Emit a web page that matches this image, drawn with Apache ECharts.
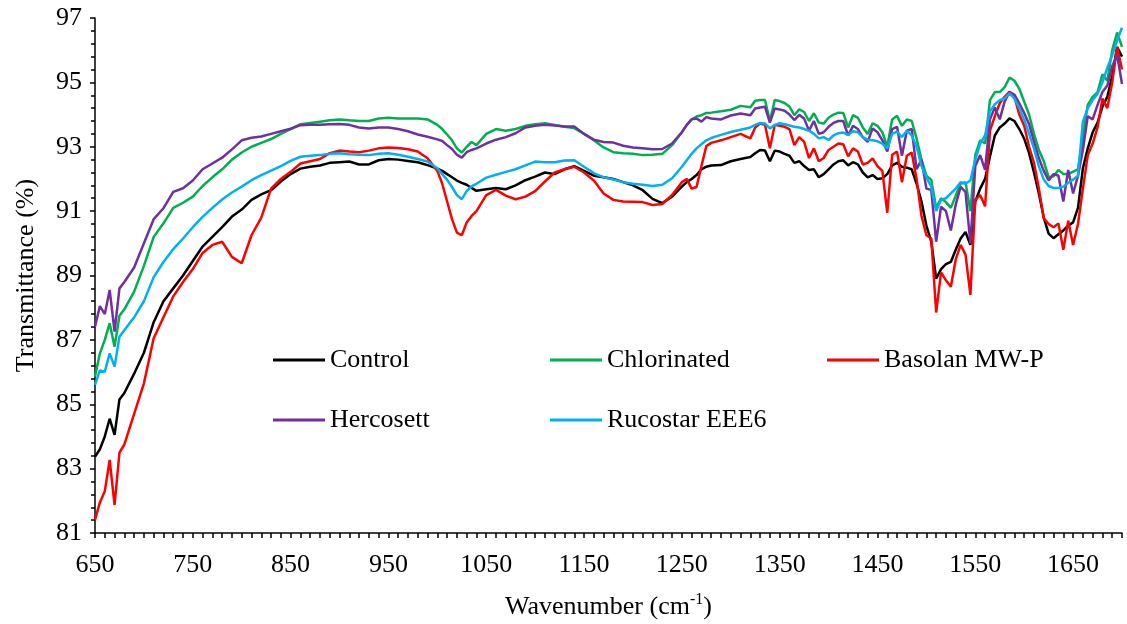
<!DOCTYPE html>
<html>
<head>
<meta charset="utf-8">
<title>FTIR spectra</title>
<script src="https://cdn.jsdelivr.net/npm/echarts@6/dist/echarts.min.js"></script>
<style>
  html, body { margin: 0; padding: 0; background: #fff; }
  #chart { width: 1127px; height: 624px; }
</style>
</head>
<body>
<div id="chart"></div>
<script>
// wavenumber grid (cm-1), shared by all series
const wavenumbers = [
  650, 655, 660, 665, 670, 675, 680,
  690, 700, 710, 720, 730, 740, 750, 760, 770, 780,
  790, 800, 810, 820, 830, 840, 850, 860, 870, 880,
  890, 900, 910, 920, 930, 940, 950, 960, 970, 980,
  990, 1000,
  1005, 1010, 1015, 1020, 1025, 1030, 1035, 1040,
  1050, 1060, 1070, 1080, 1090, 1100, 1110, 1120, 1130, 1140,
  1150, 1160, 1170, 1180, 1190, 1200, 1210, 1220, 1230, 1240, 1250,
  1255, 1260, 1265, 1270, 1275, 1280,
  1290, 1300, 1310, 1320,
  1325, 1330, 1335, 1340, 1345, 1350, 1355, 1360, 1365, 1370,
  1375, 1380, 1385, 1390, 1395, 1400, 1405, 1410, 1415, 1420,
  1425, 1430, 1435, 1440, 1445, 1450, 1455, 1460, 1465, 1470,
  1475, 1480, 1485, 1490, 1495, 1500, 1505, 1510, 1515, 1520,
  1525, 1530, 1535, 1540, 1545, 1550, 1555, 1560, 1565, 1570,
  1575, 1580, 1585, 1590, 1595, 1600, 1605, 1610, 1615, 1620,
  1625, 1630, 1635, 1640, 1645, 1650, 1655, 1660, 1665, 1670,
  1675, 1680, 1685, 1690, 1695, 1700
];

const control = [
  83.37, 83.6, 84.0, 84.55, 84.05, 85.15, 85.35,
  85.95, 86.6, 87.55, 88.2, 88.6, 89.0, 89.45, 89.9, 90.2, 90.5,
  90.83, 91.05, 91.35, 91.52, 91.65, 91.92, 92.15, 92.32, 92.38, 92.42,
  92.5, 92.52, 92.54, 92.45, 92.45, 92.58, 92.62, 92.6, 92.56, 92.52,
  92.43, 92.32,
  92.25, 92.15, 92.05, 91.95, 91.88, 91.82, 91.72, 91.63,
  91.68, 91.72, 91.68, 91.8, 91.96, 92.07, 92.2, 92.15, 92.3, 92.4,
  92.25, 92.1, 92.05, 92.0, 91.9, 91.8, 91.65, 91.38, 91.25, 91.45, 91.76,
  91.9, 92.0, 92.12, 92.3, 92.38, 92.42,
  92.43, 92.55, 92.62, 92.68,
  92.8, 92.9, 92.88, 92.55, 92.88, 92.85, 92.78, 92.72, 92.5, 92.55,
  92.4, 92.28, 92.3, 92.05, 92.15, 92.3, 92.45, 92.55, 92.58, 92.42,
  92.52, 92.45, 92.2, 92.05, 92.12, 92.0, 92.02, 92.15, 92.42, 92.5,
  92.38, 92.35, 92.3, 91.85, 91.3, 90.55, 90.05, 88.9, 89.2, 89.35,
  89.42, 89.8, 90.15, 90.35, 89.95, 91.3, 91.7, 92.0, 92.7, 93.35,
  93.6, 93.72, 93.88, 93.8, 93.55, 93.25, 92.8, 92.2, 91.55, 90.8,
  90.3, 90.16, 90.28, 90.4, 90.55, 90.65, 91.1, 92.33, 92.95, 93.45,
  93.75, 94.25, 94.55, 95.2, 96.1, 95.8
];

const chlorinated = [
  85.86, 86.58, 87.0, 87.52, 86.79, 87.75, 87.95,
  88.5, 89.3, 90.2, 90.62, 91.1, 91.26, 91.45, 91.78, 92.05, 92.3,
  92.6, 92.82, 93.0, 93.12, 93.24, 93.4, 93.55, 93.7, 93.74, 93.78,
  93.82, 93.85, 93.82, 93.8, 93.8, 93.88, 93.9, 93.88, 93.88, 93.88,
  93.85, 93.68,
  93.55, 93.38, 93.2, 92.95, 92.82, 93.0, 93.15, 93.05,
  93.4, 93.55, 93.5, 93.55, 93.65, 93.7, 93.73, 93.68, 93.62, 93.58,
  93.4, 93.2, 92.98, 92.83, 92.8, 92.78, 92.74, 92.75, 92.78, 93.05, 93.45,
  93.68, 93.85, 93.94, 93.98, 94.05, 94.06,
  94.1, 94.15, 94.27, 94.23,
  94.43, 94.45, 94.45, 93.8, 94.45, 94.42, 94.36, 94.25, 93.98, 94.16,
  94.08, 93.8, 94.04, 93.75, 93.72, 93.9, 94.0, 94.06, 94.05, 93.6,
  93.98, 93.9, 93.6, 93.4, 93.73, 93.65, 93.45, 93.0, 93.85, 93.96,
  93.65, 93.85, 93.8, 93.25, 92.6, 92.1, 91.97, 91.1, 91.4, 91.28,
  91.1, 91.48, 91.85, 91.9, 91.0, 92.75, 93.2, 93.1, 94.45, 94.7,
  94.7, 94.85, 95.15, 95.05, 94.8, 94.4, 94.0, 93.4, 92.9, 92.55,
  92.05, 92.08, 92.28, 92.15, 92.15, 92.23, 92.3, 93.3, 94.3, 94.55,
  94.7, 95.25, 95.05, 96.0, 96.55, 96.1
];

const basolan = [
  81.41, 81.95, 82.3, 83.27, 81.87, 83.5, 83.75,
  84.7, 85.65, 87.05, 87.7, 88.35, 88.8, 89.2, 89.7, 89.95, 90.05,
  89.58, 89.38, 90.25, 90.8, 91.7, 92.0, 92.22, 92.48, 92.55, 92.62,
  92.8, 92.88, 92.85, 92.83, 92.88, 92.95, 92.98, 92.96, 92.92, 92.85,
  92.64, 92.25,
  91.85, 91.3, 90.75, 90.33, 90.25, 90.65, 90.85, 91.0,
  91.5, 91.66, 91.48, 91.37, 91.45, 91.62, 91.92, 92.2, 92.3, 92.38,
  92.2, 91.95, 91.55, 91.35, 91.3, 91.29, 91.28, 91.19, 91.22, 91.5, 91.9,
  92.0, 91.7, 91.75, 92.4, 93.02, 93.12,
  93.2, 93.3, 93.4, 93.26,
  93.6, 93.72, 93.68, 92.95, 93.68, 93.65, 93.62, 93.55, 93.05, 93.3,
  93.15, 92.65, 92.95, 92.55, 92.65, 92.9, 93.0, 93.1, 93.08, 92.7,
  92.95, 92.85, 92.45, 92.5, 92.64, 92.4, 92.25, 90.95, 92.75, 92.85,
  91.9, 92.72, 92.82, 92.0, 90.85, 90.25, 90.15, 87.85, 89.1, 88.85,
  88.65, 89.5, 89.95, 89.65, 88.4, 91.35, 91.5, 91.15, 93.5, 93.95,
  94.35, 94.55, 94.71, 94.55, 94.0, 93.65, 93.0, 92.5, 91.7, 90.78,
  90.6, 90.5, 90.62, 89.8, 90.7, 89.95, 90.6, 91.7, 92.74, 93.1,
  93.6, 94.5, 94.2, 95.0, 96.1, 95.4
];

const hercosett = [
  87.41, 88.05, 87.8, 88.55, 87.26, 88.6, 88.8,
  89.25, 90.0, 90.75, 91.09, 91.6, 91.71, 91.95, 92.3, 92.48, 92.66,
  92.92, 93.2, 93.28, 93.32, 93.4, 93.48, 93.56, 93.67, 93.68, 93.68,
  93.7, 93.71, 93.68, 93.6, 93.57, 93.6, 93.6, 93.55, 93.48, 93.38,
  93.31, 93.23,
  93.18, 93.05, 92.93, 92.75, 92.66, 92.83, 92.9, 92.95,
  93.1, 93.22, 93.3, 93.42, 93.6, 93.65, 93.68, 93.66, 93.63, 93.63,
  93.4, 93.22, 93.15, 93.13, 93.03, 92.98, 92.95, 92.92, 92.93, 93.1, 93.45,
  93.68, 93.85, 93.88, 93.78, 93.92, 93.88,
  93.85, 93.97, 94.03, 93.98,
  94.19, 94.22, 94.24, 93.75, 94.19, 94.16, 94.12, 94.0, 93.83, 93.99,
  93.88, 93.5, 93.8, 93.4, 93.45, 93.62, 93.74, 93.8, 93.8, 93.35,
  93.65, 93.55, 93.3, 93.15, 93.57, 93.45, 93.2, 92.85, 93.55, 93.62,
  92.72, 93.5, 93.55, 92.3, 92.6, 91.7, 91.66, 90.05, 91.14, 91.0,
  90.4, 91.2, 91.75, 91.6, 90.0, 92.4, 92.74, 92.28, 93.85, 94.22,
  93.85, 94.4, 94.7, 94.62, 94.35, 94.05, 93.7, 93.15, 92.65, 92.25,
  91.95, 92.15, 92.1, 91.3, 92.28, 91.55, 92.1, 92.9, 93.95, 93.85,
  94.3, 94.7, 94.9, 95.5, 95.85, 94.95
];

const rucostar = [
  85.6, 86.05, 86.01, 86.58, 86.17, 87.1, 87.3,
  87.7, 88.2, 88.95, 89.42, 89.82, 90.15, 90.5, 90.82, 91.1, 91.36,
  91.58, 91.76, 91.96, 92.12, 92.26, 92.4, 92.56, 92.69, 92.72, 92.74,
  92.78, 92.8, 92.77, 92.75, 92.74, 92.78, 92.8, 92.75, 92.69, 92.62,
  92.54, 92.33,
  92.15, 91.97, 91.75, 91.5, 91.37, 91.62, 91.78, 91.85,
  92.04, 92.13, 92.22, 92.3, 92.42, 92.54, 92.52, 92.52, 92.57, 92.58,
  92.38, 92.18, 92.05, 91.98, 91.9, 91.85, 91.82, 91.78, 91.82, 92.02, 92.38,
  92.58, 92.78, 92.95, 93.08, 93.2, 93.27,
  93.37, 93.46, 93.53, 93.6,
  93.68, 93.74, 93.72, 93.57, 93.68, 93.73, 93.7, 93.66, 93.62, 93.6,
  93.55, 93.5, 93.4, 93.26, 93.3, 93.21, 93.35, 93.42, 93.44, 93.37,
  93.48, 93.45, 93.3, 93.22, 93.2, 93.17, 93.1, 92.95, 93.4, 93.47,
  93.3, 93.5, 93.35, 93.0, 92.4, 92.05, 91.76, 91.0, 91.35, 91.4,
  91.55, 91.7, 91.9, 91.85, 91.95, 92.6, 93.1, 93.35, 94.1, 94.32,
  94.45, 94.5, 94.66, 94.5, 94.2, 93.85, 93.4, 92.95, 92.4, 91.98,
  91.78, 91.72, 91.72, 91.76, 91.88, 91.98, 92.1, 93.78, 94.2, 94.45,
  94.65, 95.0, 95.45, 95.85, 96.3, 96.7
];

const seriesNames = ['Control', 'Chlorinated', 'Basolan MW-P', 'Hercosett', 'Rucostar EEE6'];
const seriesData = [control, chlorinated, basolan, hercosett, rucostar];
const seriesColors = ['#000000', '#00B050', '#FF0000', '#7030A0', '#00B0F0'];

const FONT = "'Liberation Serif', 'Times New Roman', serif";

// legend slots: two rows, three columns
const legendPos = [[273, 347], [550, 347], [827, 347], [273, 407], [550, 407]];

const chart = echarts.init(document.getElementById('chart'));

const option = {
  animation: false,
  backgroundColor: '#fff',
  grid: { left: 95, right: 5, top: 18, bottom: 91, outerBoundsMode: 'none' },
  legend: seriesNames.map((name, i) => ({
    data: [name],
    left: legendPos[i][0],
    top: legendPos[i][1],
    padding: 0,
    icon: 'rect',
    itemWidth: 52,
    itemHeight: 3,
    selectedMode: false,
    textStyle: { fontFamily: FONT, fontSize: 26, color: '#000' }
  })),
  xAxis: {
    type: 'value',
    min: 650,
    max: 1700,
    interval: 50,
    name: 'Wavenumber (cm{sup|-1})',
    nameLocation: 'middle',
    nameGap: 59,
    nameTextStyle: {
      fontFamily: FONT, fontSize: 26, color: '#000', lineHeight: 30,
      rich: { sup: { fontFamily: FONT, fontSize: 16, color: '#000', verticalAlign: 'top', lineHeight: 16 } }
    },
    axisLine: { lineStyle: { color: '#000', width: 1.5 } },
    axisTick: { length: 5, lineStyle: { color: '#000', width: 1.5 } },
    minorTick: { show: true, splitNumber: 5, length: 5, lineStyle: { color: '#000', width: 1.5 } },
    splitLine: { show: false },
    axisLabel: {
      fontFamily: FONT, fontSize: 26, color: '#000', margin: 19,
      formatter: v => ((v - 650) % 100 === 0 && v < 1700) ? String(v) : ''
    }
  },
  yAxis: {
    type: 'value',
    min: 81,
    max: 97,
    interval: 2,
    name: 'Transmittance (%)',
    nameLocation: 'middle',
    nameGap: 56,
    nameTextStyle: { fontFamily: FONT, fontSize: 26, color: '#000' },
    axisLine: { show: true, lineStyle: { color: '#000', width: 1.5 } },
    axisTick: { show: true, length: 5, lineStyle: { color: '#000', width: 1.5 } },
    minorTick: { show: true, splitNumber: 5, length: 4, lineStyle: { color: '#000', width: 1.5 } },
    splitLine: { show: false },
    axisLabel: { fontFamily: FONT, fontSize: 26, color: '#000', margin: 13 }
  },
  series: seriesNames.map((name, i) => ({
    name: name,
    type: 'line',
    data: wavenumbers.map((x, j) => [x, seriesData[i][j]]),
    showSymbol: false,
    symbol: 'none',
    lineStyle: { color: seriesColors[i], width: 2.5 },
    itemStyle: { color: seriesColors[i] },
    z: 2 + i
  }))
};

chart.setOption(option);
</script>
</body>
</html>
